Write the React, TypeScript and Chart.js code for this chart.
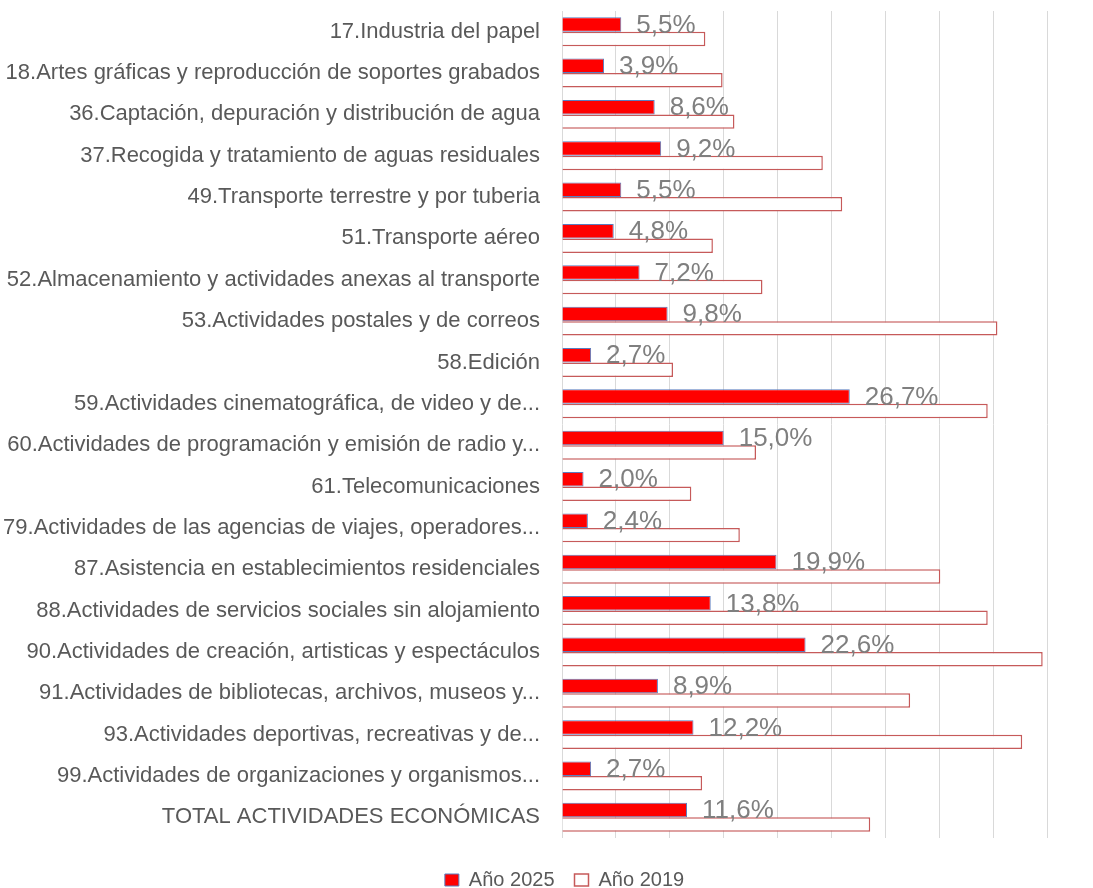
import React, { useEffect, useRef } from "react";
import { Chart, registerables } from "chart.js";

Chart.register(...registerables);

const categories: string[] = [
  "17.Industria del papel",
  "18.Artes gráficas y reproducción de soportes grabados",
  "36.Captación, depuración y distribución de agua",
  "37.Recogida y tratamiento de aguas residuales",
  "49.Transporte terrestre y por tuberia",
  "51.Transporte aéreo",
  "52.Almacenamiento y actividades anexas al transporte",
  "53.Actividades postales y de correos",
  "58.Edición",
  "59.Actividades cinematográfica, de video y de...",
  "60.Actividades de programación y emisión de radio y...",
  "61.Telecomunicaciones",
  "79.Actividades de las agencias de viajes, operadores...",
  "87.Asistencia en establecimientos residenciales",
  "88.Actividades de servicios sociales sin alojamiento",
  "90.Actividades de creación, artisticas y espectáculos",
  "91.Actividades de bibliotecas, archivos, museos y...",
  "93.Actividades deportivas, recreativas y de...",
  "99.Actividades de organizaciones y organismos...",
  "TOTAL ACTIVIDADES ECONÓMICAS",
];

const values2025: number[] = [
  5.5, 3.9, 8.6, 9.2, 5.5, 4.8, 7.2, 9.8, 2.7, 26.7, 15.0, 2.0, 2.4, 19.9, 13.8,
  22.6, 8.9, 12.2, 2.7, 11.6,
];

const values2019: number[] = [
  13.3, 14.9, 16.0, 24.2, 26.0, 14.0, 18.6, 40.4, 10.3, 39.5, 18.0, 12.0, 16.5,
  35.1, 39.5, 44.6, 32.3, 42.7, 13.0, 28.6,
];

const seriesNames: string[] = ["Año 2025", "Año 2019"];

const FONT = "'Liberation Sans', Arial, sans-serif";

const dataLabelPlugin = {
  id: "dataLabels2025",
  afterDatasetsDraw(chart: any) {
    const meta = chart.getDatasetMeta(0);
    const ctx = chart.ctx;
    ctx.save();
    ctx.font = `26px ${FONT}`;
    ctx.fillStyle = "#7f7f7f";
    ctx.textAlign = "left";
    ctx.textBaseline = "middle";
    meta.data.forEach((bar: any, i: number) => {
      const v = values2025[i];
      const txt = v.toFixed(1).replace(".", ",") + "%";
      ctx.fillText(txt, bar.x + 15, bar.y + 1);
    });
    ctx.restore();
  },
};

const legendShift = {
  id: "legendShift",
  afterLayout(chart: any) {
    const l = chart.legend;
    if (!l) return;
    l.left += 41;
    l.right += 41;
    l.top += 12;
    l.bottom += 12;
  },
};

export default function App() {
  const ref = useRef<HTMLCanvasElement | null>(null);

  useEffect(() => {
    document.body.style.margin = "0";
    document.body.style.overflow = "hidden";
    const canvas = ref.current;
    if (!canvas) return;
    const chart = new Chart(canvas, {
      type: "bar",
      data: {
        labels: categories,
        datasets: [
          {
            label: seriesNames[0],
            data: values2025,
            backgroundColor: "#ff0000",
            borderColor: "#5a7dbf",
            borderWidth: 1,
            categoryPercentage: 0.7,
            barPercentage: 1.0,
          },
          {
            label: seriesNames[1],
            data: values2019,
            backgroundColor: "#ffffff",
            borderColor: "#c65a5a",
            borderWidth: 1.5,
            categoryPercentage: 0.7,
            barPercentage: 1.0,
          },
        ],
      },
      options: {
        indexAxis: "y",
        responsive: false,
        animation: false,
        devicePixelRatio: 1,
        layout: { padding: { top: 11, right: 46, left: 0, bottom: 0 } },
        scales: {
          x: {
            min: 0,
            max: 45,
            ticks: { display: false, stepSize: 5 },
            grid: { color: "#d9d9d9", lineWidth: 1, drawTicks: false },
            border: { display: false },
            afterFit: (scale: any) => {
              scale.height = 0;
              scale.paddingLeft = 0;
              scale.paddingRight = 0;
            },
          },
          y: {
            ticks: {
              color: "#595959",
              font: { family: FONT, size: 22 },
              padding: 22,
              autoSkip: false,
            },
            grid: { display: false, drawTicks: false },
            border: { display: false },
            afterFit: (scale: any) => {
              scale.width = 562;
              scale.paddingTop = 0;
              scale.paddingBottom = 0;
            },
          },
        },
        plugins: {
          legend: {
            position: "bottom",
            labels: {
              color: "#595959",
              font: { family: FONT, size: 20 },
              boxWidth: 14,
              boxHeight: 12,
              padding: 20,
            },
          },
          tooltip: { enabled: false },
        },
      },
      plugins: [dataLabelPlugin, legendShift],
    });
    return () => chart.destroy();
  }, []);

  return (
    <div style={{ width: 1093, height: 888, overflow: "hidden", background: "#ffffff" }}>
      <canvas ref={ref} width={1093} height={888} style={{ width: 1093, height: 888, display: "block" }} />
    </div>
  );
}
